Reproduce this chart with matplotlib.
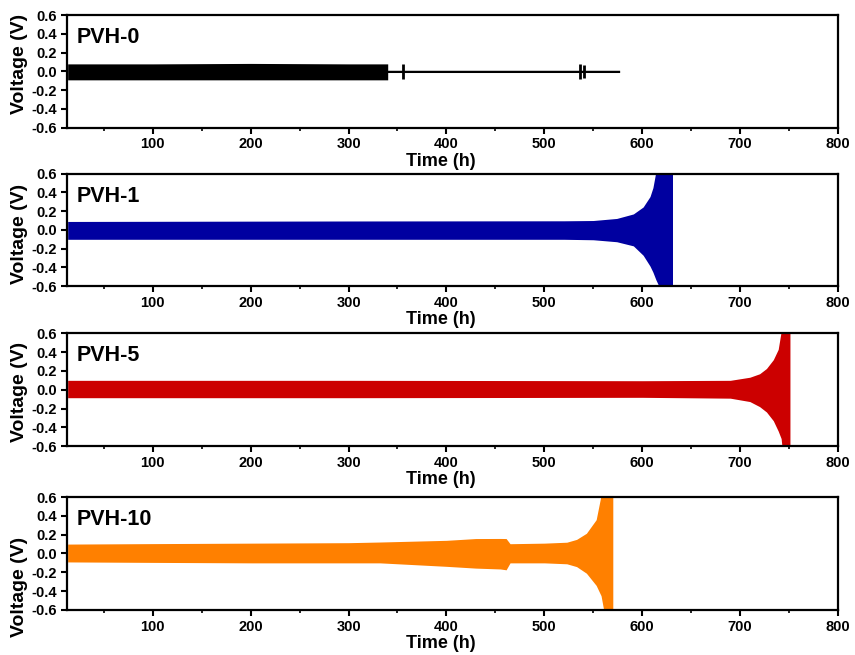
import numpy as np
from matplotlib import pyplot as plt
from matplotlib.ticker import MultipleLocator, FormatStrFormatter

plt.rcParams['font.family'] = ['Liberation Sans', 'DejaVu Sans']
plt.rcParams['font.weight'] = 'bold'
plt.rcParams['axes.unicode_minus'] = False

# envelope of the voltage profiles (time in h, upper / lower voltage in V)
t0 = [13, 100, 200, 300, 340, 340, 577]
up0 = [0.08, 0.08, 0.085, 0.08, 0.08, 0.012, 0.012]
lo0 = [-0.09, -0.09, -0.09, -0.09, -0.09, -0.012, -0.012]
# short spikes on the PVH-0 trace
spike_t0 = [356, 536, 541]
spike_up0 = [0.08, 0.08, 0.07]
spike_lo0 = [-0.08, -0.08, -0.07]

t1 = [13, 300, 520, 550, 574, 591, 601, 608, 611, 614, 618, 631]
up1 = [0.09, 0.095, 0.097, 0.10, 0.122, 0.17, 0.244, 0.355, 0.45, 0.62, 0.62, 0.62]
lo1 = [-0.1, -0.1, -0.1, -0.105, -0.126, -0.17, -0.27, -0.385, -0.45, -0.53, -0.62, -0.62]

t5 = [13, 300, 600, 690, 710, 720, 727, 734, 739, 742, 743, 751]
up5 = [0.10, 0.10, 0.096, 0.10, 0.133, 0.17, 0.226, 0.32, 0.43, 0.62, 0.62, 0.62]
lo5 = [-0.085, -0.085, -0.081, -0.09, -0.126, -0.18, -0.237, -0.33, -0.44, -0.52, -0.62, -0.62]

t10 = [13, 100, 200, 300, 332, 400, 430, 455, 461, 465, 500, 523, 533, 543, 553, 558, 561, 570]
up10 = [0.10, 0.105, 0.11, 0.115, 0.122, 0.14, 0.159, 0.16, 0.159, 0.104, 0.11, 0.12, 0.15, 0.215, 0.36, 0.62, 0.62, 0.62]
lo10 = [-0.09, -0.095, -0.1, -0.1, -0.1, -0.137, -0.156, -0.165, -0.174, -0.10, -0.10, -0.11, -0.14, -0.21, -0.34, -0.45, -0.62, -0.62]

names = ['PVH-0', 'PVH-1', 'PVH-5', 'PVH-10']
colors = ['#000000', '#0000A0', '#CC0000', '#FF8000']
series = [(t0, up0, lo0), (t1, up1, lo1), (t5, up5, lo5), (t10, up10, lo10)]

# axes positions (left, bottom, width, height) in figure fraction
left = 0.078
width = 0.902
bottoms = [0.805, 0.563, 0.319, 0.069]
height = 0.172
# y position of the "Voltage (V)" label in each panel (axes fraction)
ylab_y = [0.566, 0.463, 0.48, 0.204]

fig = plt.figure(figsize=(8.55, 6.55), dpi=100)

for i in range(4):
    ax = fig.add_axes([left, bottoms[i], width, height])
    t, up, lo = series[i]
    ax.fill_between(t, lo, up, color=colors[i], lw=0)
    if i == 0:
        ax.vlines(spike_t0, spike_lo0, spike_up0, color=colors[i], lw=2)

    ax.set_xlim(12, 800)
    ax.set_ylim(-0.6, 0.6)
    ax.xaxis.set_major_locator(MultipleLocator(100))
    ax.xaxis.set_minor_locator(MultipleLocator(50))
    ax.yaxis.set_major_locator(MultipleLocator(0.2))
    ax.yaxis.set_major_formatter(FormatStrFormatter('%.1f'))
    ax.tick_params(axis='both', which='major', direction='out', length=4, width=1.5,
                   labelsize=10.5, pad=3)
    ax.tick_params(axis='x', which='minor', direction='out', length=2.5, width=1.2)
    for s in ax.spines.values():
        s.set_linewidth(1.6)

    ax.set_xlabel('Time (h)', fontsize=13, fontweight='bold', labelpad=1)
    ax.xaxis.label.set_x(0.485)
    ax.set_ylabel('Voltage (V)', fontsize=14, fontweight='bold')
    ax.yaxis.set_label_coords(-0.0506, ylab_y[i])
    ax.text(0.013, 0.80, names[i], transform=ax.transAxes, fontsize=15.5,
            fontweight='bold', ha='left', va='center')

fig.savefig('out.png', dpi=100)
